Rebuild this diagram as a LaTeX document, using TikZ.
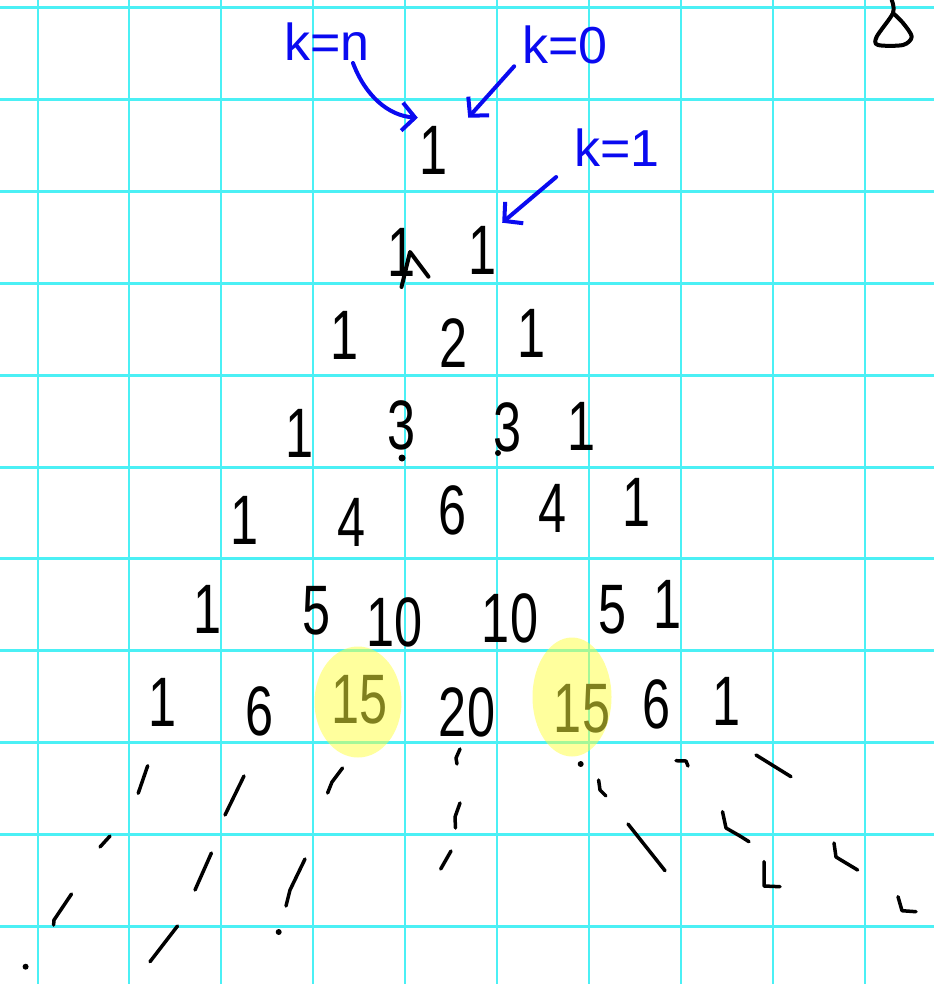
\documentclass[tikz,border=0pt]{standalone}
\usepackage{fontspec}
\setmainfont{Liberation Sans}
\newfontfamily\handfont{Liberation Sans}[FakeStretch=0.72]
\usetikzlibrary{arrows.meta,calc}
\definecolor{gridcyan}{RGB}{75,240,245}
\definecolor{penblue}{RGB}{10,10,240}
\definecolor{hilite}{RGB}{255,255,60}

\begin{document}
\begin{tikzpicture}[x=1pt, y=-1pt, >={Straight Barb[length=13pt,width=28pt]},
  num/.style={font=\handfont\fontsize{70}{70}\selectfont, inner sep=2pt},
  lbl/.style={font=\fontsize{52}{52}\selectfont, text=penblue, inner sep=2pt},
  pen/.style={line width=4pt, line cap=round, line join=round},
  arr/.style={pen, penblue, ->}]
\useasboundingbox (0,0) rectangle (934,984);
\fill[white] (0,0) rectangle (934,984);
\foreach \i in {0,...,9} \draw[gridcyan, line width=2pt] ({37.5+91.9*\i},0) -- ({37.5+91.9*\i},984);
\foreach \j in {0,...,10} \draw[gridcyan, line width=3pt] (0,{7.5+91.9*\j}) -- (934,{7.5+91.9*\j});

\foreach \n/\m/\x/\y/\t in {0/0/434/150/1, 1/0/402/252/1, 1/1/483/250/1, 2/0/345/335/1, 2/1/454/343/2, 2/2/532/333/1,
  3/0/300/433/1, 3/1/402/425/3, 3/2/508/427/3, 3/3/582/426/1, 4/0/245/520/1, 4/1/352/522/4, 4/2/453/510/6, 4/3/553/508/4, 4/4/637/502/1,
  5/0/208/609/1, 5/1/317/611/5, 5/2/395/622/10, 5/3/510/618/10, 5/4/613/610/5, 5/5/668/604/1,
  6/0/163/702/1, 6/1/260/711/6, 6/2/360/700/15, 6/3/467/712/20, 6/4/582/709/15, 6/5/657/704/6, 6/6/727/701/1}
  \node[num] (r\n-\m) at (\x,\y) {\t};

\fill[hilite, fill opacity=0.5] ($(r6-2)+(-2,2)$) ellipse [x radius=43.5, y radius=55.5];
\fill[hilite, fill opacity=0.5] ($(r6-4)+(-10,-12)$) ellipse [x radius=39.5, y radius=59.5];

\node[lbl] (kn) at (327,42) {k=n};
\node[lbl] (k0) at (565,45) {k=0};
\node[lbl] (k1) at (617,148) {k=1};
\draw[arr] ($(kn.south)+(26,0)$) .. controls +(12,32) and +(-30,-2) .. ($(r0-0.north west)+(0,-6)$);
\draw[arr] ($(k0.south west)+(-6,0)$) -- ($(r0-0.north east)+(18,-6)$);
\draw[arr] ($(k1.south west)+(-16,8)$) -- ($(r1-1.north east)+(3,-1)$);

\draw[pen] (401.5,287) -- (410,252) -- (428.5,276.7);
\fill (402,458) circle (3.5) (498,453) circle (3);
\draw[pen] plot[smooth] coordinates {(891.7,0) (893,13) (876.7,36.7) (878,45) (903,45) (911.7,36.7) (903,23) (893,13)};

\foreach \p in {{(147.7,765.7) -- (138.2,793.3)}, {(244,776) -- (225,815)}, {(342.5,768) -- (332,782) -- (327.6,793)},
  {(460,749) -- (456,758) -- (457,764)}, {(598.6,780) -- (600,790) -- (606,796)}, {(676,760.7) -- (686,761) -- (688,766)},
  {(756,755) -- (791,776.7)}, {(110,836) -- (100,847)}, {(460,803) -- (455,817) -- (455.5,828)},
  {(722.5,811.7) -- (726,828) -- (740,836) -- (749,841.7)}, {(628,824) -- (665,870.7)}, {(211.4,853) -- (195,890)},
  {(305,859) -- (290,890) -- (286,906)}, {(451,851) -- (440.7,869)}, {(764,861.7) -- (764,886) -- (780,886.7)},
  {(834,843) -- (836,857) -- (857.6,870)}, {(71.5,894) -- (54,920) -- (53.6,925)}, {(177.5,926) -- (150,961.7)},
  {(898,896.7) -- (902,910.7) -- (916,911.7)}}
  \draw[pen, line width=3.5pt] \p;
\fill (580.7,764) circle (3) (278.7,932) circle (3) (25.6,966.7) circle (3);
\end{tikzpicture}
\end{document}
